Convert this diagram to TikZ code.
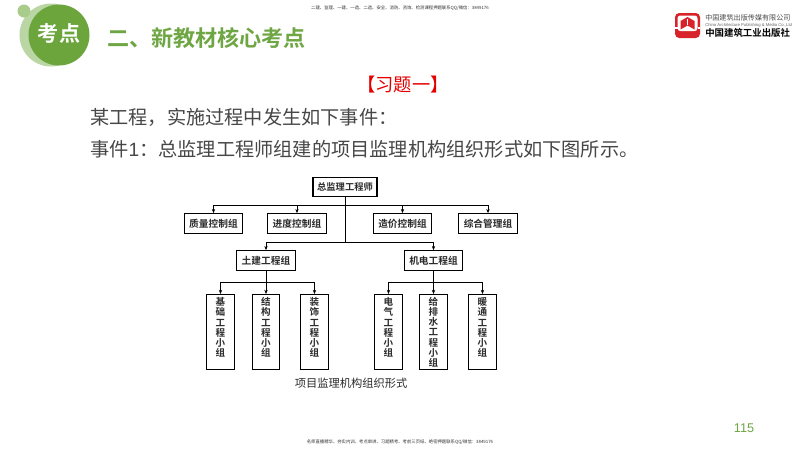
\documentclass[tikz,border=0pt]{standalone}
\usepackage{fontspec}
\setmainfont{Noto Sans CJK SC}[BoldFont={Noto Sans CJK SC Bold}]
\newfontfamily\latinfont{Liberation Sans}
\usepackage{xcolor}
\usetikzlibrary{positioning,arrows.meta}
\definecolor{leafgreen}{HTML}{6BA53C}
\definecolor{palegreen}{HTML}{BAD6A4}
\definecolor{dotgreen}{HTML}{A9CB8C}
\definecolor{titlegreen}{HTML}{6FA644}
\definecolor{logored}{HTML}{D8232A}
\definecolor{inkgrey}{HTML}{2B2B2B}
\definecolor{bodygrey}{HTML}{474747}
\begin{document}
\begin{tikzpicture}
		[x=0.025cm,y=-0.025cm,
		orgbox/.style={draw=black,line width=0.8pt,fill=white,inner sep=0pt,text=inkgrey,font=\fontsize{6.9}{7}\selectfont\bfseries},
		midbox/.style={orgbox,minimum width=1.47cm,minimum height=0.49cm},
		tallbox/.style={orgbox,minimum width=0.68cm,minimum height=1.88cm,anchor=north,align=center,font=\fontsize{6.8}{7.25}\selectfont\bfseries},
		link/.style={draw=black,line width=0.55pt},
		tiplink/.style={link,-{Stealth[length=3pt,width=2.4pt]}},
		bodyline/.style={anchor=west,inner sep=0pt,text=bodygrey,font=\fontsize{13.65}{15}\selectfont},
		finetext/.style={text=black!80,font=\fontsize{3.1}{4}\selectfont}]
		\useasboundingbox (0,0) rectangle (800,450);
		\fill[white] (0,0) rectangle (800,450);

		\fill[palegreen] (51,35) circle (31.5);
		\fill[dotgreen] (24,11) circle (6.5);
		\fill[leafgreen] (59,35) circle (30.5);
		\node[text=white,font=\fontsize{15}{15}\selectfont\bfseries] (badge) at (59,33) {考点};
		\node[anchor=west,inner sep=0pt,text=titlegreen,font=\fontsize{15.7}{16}\selectfont\bfseries] (title) at (107,38) {二、新教材核心考点};

		\node[finetext] (topnote) at (400,8) {二建、监理、一建、一造、二造、安全、消防、咨询、检测课程押题联系QQ/微信：3849176};
		\node[finetext] (footnote) at (400,442) {名师直播精华、夯实内训、考点串讲、习题精考、考前三页纸、绝密押题联系QQ/微信：3849176};

		\fill[logored,rounded corners=3pt] (675,13) rectangle (700,38);
		\fill[white,rounded corners=2pt] (677.5,15.5) rectangle (697.5,31);
		\fill[logored] (687.5,17) -- (694.5,21) -- (694.5,29.5) -- (687.5,25.5) -- (680.5,29.5) -- (680.5,21) -- cycle;
		\fill[white] (687,18.5) rectangle (688,25);
		\fill[white] (675,27) rectangle (677.5,29);
		\fill[white] (697.5,27) rectangle (700,29);
		\node[anchor=west,text=black!70,inner sep=0pt,font=\fontsize{5.05}{6}\selectfont] (press) at (705,17.5) {中国建筑出版传媒有限公司};
		\node[anchor=west,text=black!60,inner sep=0pt,font=\latinfont\fontsize{3}{3}\selectfont] (pressen) at (705,25) {China Architecture Publishing \& Media Co.,Ltd};
		\node[anchor=west,text=black,inner sep=0pt,font=\fontsize{6.7}{7}\selectfont\bfseries] (pressname) at (705,33) {中国建筑工业出版社};

		\node[text=red!90!black,font=\fontsize{13}{14}\selectfont] (heading) at (403,85) {【习题一】};
		\node[bodyline] (lineone) at (90,117) {某工程，实施过程中发生如下事件：};
		\node[bodyline] (linetwo) at (90,149) {事件{\latinfont 1}：总监理工程师组建的项目监理机构组织形式如下图所示。};

		\node[midbox,minimum width=1.6cm,font=\fontsize{6.6}{7}\selectfont\bfseries] (chief) at (345,187) {总监理工程师};
		\node[midbox] (quality) at (213.5,223.5) {质量控制组};
		\node[midbox] (progress) at (297,223.5) {进度控制组};
		\node[midbox] (cost) at (402.5,223.5) {造价控制组};
		\node[midbox] (general) at (488,223.5) {综合管理组};
		\node[midbox] (civil) at (266,260.5) {土建工程组};
		\node[midbox] (mech) at (433.5,260.5) {机电工程组};
		\node[tallbox] (found) at (220.5,294) {基\\础\\工\\程\\小\\组\\~};
		\node[tallbox] (frame) at (266,294) {结\\构\\工\\程\\小\\组\\~};
		\node[tallbox] (finish) at (314.5,294) {装\\饰\\工\\程\\小\\组\\~};
		\node[tallbox] (power) at (388.5,294) {电\\气\\工\\程\\小\\组\\~};
		\node[tallbox] (water) at (433.5,294) {给\\排\\水\\工\\程\\小\\组};
		\node[tallbox] (hvac) at (482.5,294) {暖\\通\\工\\程\\小\\组\\~};
		\node[text=inkgrey,font=\fontsize{8}{9}\selectfont] (caption) at (351,383) {项目监理机构组织形式};

		\coordinate (upperbus) at (345,205);
		\coordinate (lowerbus) at (345,242);
		\coordinate (civilbus) at (266,282);
		\coordinate (mechbus) at (433.5,282);

		\draw[link] (chief) -- (lowerbus);
		\foreach \a in {quality,progress,cost,general} \draw[tiplink] (upperbus) -| (\a);
		\foreach \a in {civil,mech} \draw[tiplink] (lowerbus) -| (\a);
		\draw[link] (civil) -- (civilbus);
		\draw[link] (mech) -- (mechbus);
		\foreach \a in {found,frame,finish} \draw[tiplink] (civilbus) -| (\a);
		\foreach \a in {power,water,hvac} \draw[tiplink] (mechbus) -| (\a);

		\node[text=titlegreen,font=\latinfont\fontsize{9}{10}\selectfont] (pageno) at (744,428) {115};
\end{tikzpicture}
\end{document}
